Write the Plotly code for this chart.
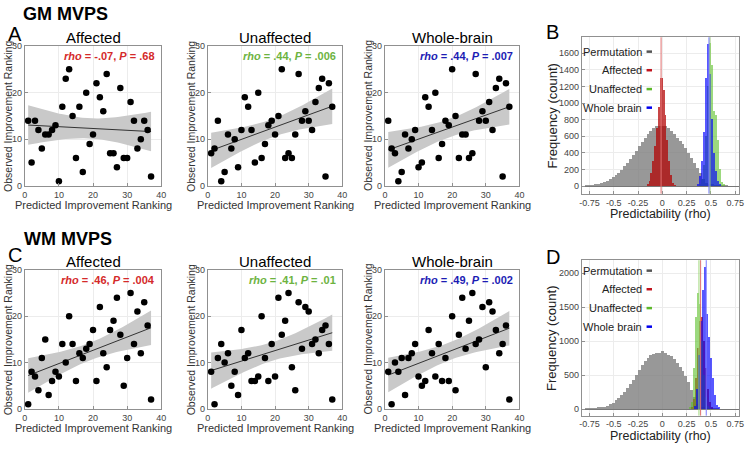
import numpy as np
import plotly.graph_objects as go

# ---------------- data ----------------
rank = list(range(1, 38))
gm_affected = [14, 5, 14, 12, 8, 11, 11, 12, 13, 1, 17, 23, 25, 15, 6, 17, 3, 20, 9, 11, 22, 19, 16, 24, 7, 7, 4, 21, 6, 6, 18, 14, 8, 10, 14, 12, 2]
gm_unaffected = [7, 8, 14, 1, 3, 11, 8, 10, 4, 12, 19, 17, 12, 5, 20, 6, 9, 13, 14, 11, 15, 25, 6, 7, 6, 11, 24, 14, 16, 14, 12, 18, 21, 23, 2, 22, 17]
gm_whole = [14, 8, 7, 1, 3, 11, 8, 10, 12, 4, 5, 19, 17, 12, 20, 6, 9, 14, 13, 25, 15, 6, 11, 11, 6, 7, 24, 14, 16, 14, 18, 12, 21, 23, 2, 22, 17]
wm_affected = [1, 8, 7, 4, 11, 15, 3, 6, 8, 7, 14, 10, 20, 14, 6, 12, 11, 13, 14, 17, 6, 22, 12, 9, 17, 19, 24, 16, 5, 11, 25, 14, 21, 12, 23, 18, 2]
wm_unaffected = [8, 1, 11, 14, 10, 12, 5, 8, 3, 17, 11, 12, 6, 6, 7, 20, 11, 6, 14, 7, 24, 16, 19, 25, 9, 4, 23, 13, 22, 21, 14, 15, 12, 17, 18, 14, 2]
wm_whole = [8, 1, 10, 8, 11, 3, 11, 12, 14, 7, 5, 6, 17, 12, 7, 14, 6, 11, 6, 20, 4, 16, 24, 13, 19, 25, 14, 15, 22, 9, 23, 21, 17, 12, 14, 18, 2]

panel_titles = ["Affected", "Unaffected", "Whole-brain"]
gm_stats = ["<i>rho</i> = -.07, <i>P</i> = .68", "<i>rho</i> = .44, <i>P</i> = .006", "<i>rho</i> = .44, <i>P</i> = .007"]
wm_stats = ["<i>rho</i> = .46, <i>P</i> = .004", "<i>rho</i> = .41, <i>P</i> = .01", "<i>rho</i> = .49, <i>P</i> = .002"]

# histograms (bin centres and counts)
perm_centers = [round(-0.78 + 0.03 * i, 2) for i in range(51)]
gm_perm_counts = [2, 4, 8, 12, 20, 30, 45, 60, 80, 105, 130, 160, 195, 235, 280, 320, 370, 420, 480, 530,
                  580, 625, 665, 695, 715, 725, 720, 715, 695, 665, 620, 580, 535, 510, 460, 400, 340, 270,
                  220, 150, 80, 40, 20, 12, 7, 4, 2, 1, 1, 0, 0]
wm_perm_counts = [2, 4, 6, 10, 15, 22, 35, 50, 70, 95, 125, 160, 200, 250, 310, 370, 430, 500, 570, 640,
                  700, 750, 790, 810, 830, 820, 850, 830, 800, 780, 730, 680, 620, 560, 480, 390, 280, 170,
                  80, 35, 15, 8, 4, 2, 1, 1, 0, 0, 0, 0, 0]

gm_aff_centers = [-0.15, -0.13, -0.11, -0.09, -0.07, -0.05, -0.03, -0.01, 0.01, 0.03, 0.05, 0.07, 0.09, 0.11, 0.13]
gm_aff_counts = [20, 60, 150, 300, 480, 700, 950, 1300, 1150, 850, 550, 300, 130, 40, 10]
gm_unaff_centers = [0.39, 0.41, 0.43, 0.45, 0.47, 0.49, 0.51, 0.53, 0.55, 0.57, 0.59, 0.61, 0.63]
gm_unaff_counts = [20, 80, 250, 600, 1200, 1720, 1450, 900, 850, 550, 200, 50, 15]
gm_whole_centers = [0.37, 0.39, 0.41, 0.43, 0.45, 0.47, 0.49, 0.51, 0.53, 0.55, 0.57, 0.59]
gm_whole_counts = [20, 120, 300, 650, 1300, 1700, 1350, 800, 400, 180, 60, 15]

wm_aff_centers = [0.31, 0.33, 0.35, 0.37, 0.39, 0.41, 0.43, 0.45, 0.47, 0.49, 0.51]
wm_aff_counts = [20, 150, 450, 900, 1300, 1350, 1000, 600, 300, 100, 25]
wm_unaff_centers = [0.29, 0.31, 0.33, 0.35, 0.37, 0.39, 0.41, 0.43, 0.45, 0.47, 0.49]
wm_unaff_counts = [15, 100, 600, 1350, 1700, 1550, 1000, 500, 180, 40, 10]
wm_whole_centers = [0.34, 0.36, 0.38, 0.40, 0.42, 0.44, 0.46, 0.48, 0.50, 0.52, 0.54, 0.56, 0.58]
wm_whole_counts = [50, 300, 800, 1300, 1750, 2080, 1400, 1060, 750, 460, 200, 60, 15]

gm_lines = [-0.013, 0.49, 0.48]   # affected, unaffected, whole brain means
wm_lines = [0.394, 0.377, 0.452]

legend_names = ["Permutation", "Affected", "Unaffected", "Whole brain"]

# ---------------- styling ----------------
W, H = 750, 449
FONT = "Liberation Sans, Arial, sans-serif"
RED = "#d42a2a"
GREEN = "#6db33f"
BLUE = "#1c1cb4"
H_GRAY = "#7f7f7f"
H_RED = "#b30000"
H_GREEN = "#5cc02a"
H_BLUE = "#0000ff"
AXC = "#909090"
GRID = "#ececec"


def px(x):
    return x / W


def py(y):
    return 1 - y / H


fig = go.Figure()

col_px = [(22, 160), (207, 343), (386, 522)]
row_px = [(42, 185), (271, 413)]
rows = [(gm_affected, gm_unaffected, gm_whole), (wm_affected, wm_unaffected, wm_whole)]
stats = [gm_stats, wm_stats]
stat_colors = [RED, GREEN, BLUE]

annotations = []
shapes = []
layout_axes = {}
ax_i = 0


def note(x, y, text, size, color="#222", xanchor="center", angle=0):
    annotations.append(dict(x=px(x), y=py(y), xref="paper", yref="paper", text=text,
                            showarrow=False, xanchor=xanchor, yanchor="middle", textangle=angle,
                            font=dict(size=size, color=color, family=FONT)))


for r in range(2):
    for c in range(3):
        ax_i += 1
        xa = "x" if ax_i == 1 else f"x{ax_i}"
        ya = "y" if ax_i == 1 else f"y{ax_i}"
        xkey = "xaxis" if ax_i == 1 else f"xaxis{ax_i}"
        ykey = "yaxis" if ax_i == 1 else f"yaxis{ax_i}"
        x0, x1 = col_px[c]
        y0, y1 = row_px[r]
        yvals = np.array(rows[r][c], dtype=float)
        xvals = np.array(rank, dtype=float)
        # linear fit with 95% confidence band
        b, a = np.polyfit(xvals, yvals, 1)
        n = len(xvals)
        resid = yvals - (a + b * xvals)
        s = np.sqrt(np.sum(resid ** 2) / (n - 2))
        sxx = np.sum((xvals - xvals.mean()) ** 2)
        xs = np.linspace(xvals.min(), xvals.max(), 60)
        fit = a + b * xs
        half = 2.03 * s * np.sqrt(1 / n + (xs - xvals.mean()) ** 2 / sxx)
        fig.add_trace(go.Scatter(x=np.concatenate([xs, xs[::-1]]),
                                 y=np.concatenate([fit + half, (fit - half)[::-1]]),
                                 fill="toself", fillcolor="#c9c9c9", line=dict(width=0),
                                 mode="lines", hoverinfo="skip", showlegend=False, xaxis=xa, yaxis=ya))
        fig.add_trace(go.Scatter(x=xs, y=fit, mode="lines", line=dict(color="#333333", width=1),
                                 showlegend=False, xaxis=xa, yaxis=ya))
        fig.add_trace(go.Scatter(x=xvals, y=yvals, mode="markers",
                                 marker=dict(color="black", size=6.5), showlegend=False,
                                 xaxis=xa, yaxis=ya))
        layout_axes[xkey] = dict(domain=[px(x0), px(x1)], range=[0, 40], anchor=ya,
                                 tickvals=[0, 10, 20, 30, 40], showline=True, linecolor=AXC,
                                 mirror=True, ticks="inside", ticklen=3, tickcolor=AXC,
                                 showgrid=True, gridcolor=GRID, zeroline=False,
                                 tickfont=dict(size=9, color="#444", family=FONT))
        layout_axes[ykey] = dict(domain=[py(y1), py(y0)], range=[0, 30], anchor=xa,
                                 tickvals=[0, 10, 20, 30], showline=True, linecolor=AXC,
                                 mirror=True, ticks="inside", ticklen=3, tickcolor=AXC,
                                 showgrid=True, gridcolor=GRID, zeroline=False,
                                 tickfont=dict(size=9, color="#444", family=FONT))
        note((x0 + x1) / 2, y0 - 8.5, panel_titles[c], 15, "black")
        note(x1 - 4, y0 + 10.5, "<b>" + stats[r][c] + "</b>", 11, stat_colors[c], xanchor="right")
        note(x0 - 17, (y0 + y1) / 2, "Observed Improvement Ranking", 10.5, "#333", angle=-90)
        note((x0 + x1) / 2, y1 + 20, "Predicted Improvement Ranking", 11, "#333")

# histograms
hist_rows = [
    dict(perm=gm_perm_counts, aff=(gm_aff_centers, gm_aff_counts), unaff=(gm_unaff_centers, gm_unaff_counts),
         whole=(gm_whole_centers, gm_whole_counts), lines=gm_lines, ypx=(33, 193), yr=[-90, 1790],
         ticks=[0, 200, 400, 600, 800, 1000, 1200, 1400, 1600], leg=[47.7, 66.7, 86, 105]),
    dict(perm=wm_perm_counts, aff=(wm_aff_centers, wm_aff_counts), unaff=(wm_unaff_centers, wm_unaff_counts),
         whole=(wm_whole_centers, wm_whole_counts), lines=wm_lines, ypx=(261, 420), yr=[-95, 2190],
         ticks=[0, 500, 1000, 1500, 2000], leg=[271.7, 290.7, 310, 329]),
]
hx0, hx1 = 585, 744
for hr in hist_rows:
    ax_i += 1
    xa, ya = f"x{ax_i}", f"y{ax_i}"
    xkey, ykey = f"xaxis{ax_i}", f"yaxis{ax_i}"
    fig.add_trace(go.Bar(x=perm_centers, y=hr["perm"], width=0.03, marker=dict(color=H_GRAY, line=dict(width=0)),
                         opacity=0.8, showlegend=False, xaxis=xa, yaxis=ya))
    for (cx, cy), colr, op in [(hr["aff"], H_RED, 0.72), (hr["unaff"], H_GREEN, 0.6), (hr["whole"], H_BLUE, 0.65)]:
        fig.add_trace(go.Bar(x=cx, y=cy, width=0.02, marker=dict(color=colr, line=dict(width=0)),
                             opacity=op, showlegend=False, xaxis=xa, yaxis=ya))
    layout_axes[xkey] = dict(domain=[px(hx0), px(hx1)], range=[-0.83, 0.79], anchor=ya,
                             tickvals=[-0.75, -0.5, -0.25, 0, 0.25, 0.5, 0.75],
                             ticktext=["-0.75", "-0.5", "-0.25", "0", "0.25", "0.5", "0.75"],
                             showline=True, linecolor=AXC, mirror=True, ticks="inside", ticklen=3,
                             tickcolor=AXC, showgrid=True, gridcolor=GRID, zeroline=False,
                             tickfont=dict(size=9, color="#444", family=FONT))
    layout_axes[ykey] = dict(domain=[py(hr["ypx"][1]), py(hr["ypx"][0])], range=hr["yr"], anchor=xa,
                             tickvals=hr["ticks"], showline=True, linecolor=AXC, mirror=True,
                             ticks="inside", ticklen=3, tickcolor=AXC, showgrid=True, gridcolor=GRID,
                             zeroline=True, zerolinecolor="#777", zerolinewidth=1,
                             tickfont=dict(size=9, color="#444", family=FONT))
    for v, colr in zip(hr["lines"], ["#e07070", "#9fd67a", "#7a7aff"]):
        shapes.append(dict(type="line", xref=xa, yref=f"{ya} domain", x0=v, x1=v, y0=0, y1=1,
                           line=dict(color=colr, width=1)))
    for name, yy, colr in zip(legend_names, hr["leg"], ["#555555", "#c0141e", "#5cb82a", "#0000ee"]):
        note(648, yy, name, 11, "#222", xanchor="right")
        shapes.append(dict(type="line", xref="paper", yref="paper", x0=px(650.5), x1=px(656),
                           y0=py(yy), y1=py(yy), line=dict(color=colr, width=2.5)))
    y0, y1 = hr["ypx"]
    note(555, (y0 + y1) / 2, "Frequency (count)", 13, "#222", angle=-90)
    note((hx0 + hx1) / 2, y1 + 21, "Predictability (rho)", 12.5, "#222")

# headings and panel letters
note(18, 9, "<b>GM MVPS</b>", 18, "black", xanchor="left")
note(19, 239, "<b>WM MVPS</b>", 18, "black", xanchor="left")
note(3, 30, "A", 20, "black", xanchor="left")
note(3, 256, "C", 20, "black", xanchor="left")
note(547, 28, "B", 20, "black", xanchor="left")
note(547, 257.5, "D", 20, "black", xanchor="left")

fig.update_layout(width=W, height=H, margin=dict(l=0, r=0, t=0, b=0),
                  paper_bgcolor="white", plot_bgcolor="white", barmode="overlay", bargap=0,
                  showlegend=False, annotations=annotations, shapes=shapes,
                  font=dict(family=FONT), **layout_axes)

fig.write_html("out.html", config={"displayModeBar": False},
               post_script="document.body.style.margin='0';")
